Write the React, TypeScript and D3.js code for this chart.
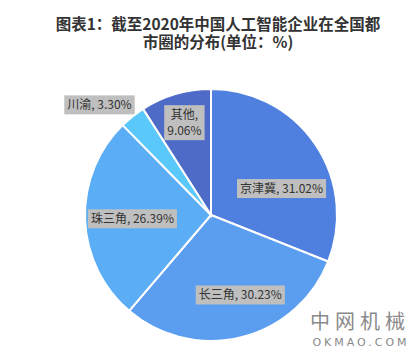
import React, { useEffect, useRef } from 'react'
import * as d3 from 'd3'

const regions = ['京津冀', '长三角', '珠三角', '川渝', '其他']
const shares = [31.02, 30.23, 26.39, 3.3, 9.06]
const colors = ['#4f80e0', '#5b9ef0', '#5badf5', '#5ac8fa', '#4e6bc8']
// where each label sits: share of the radius, then a small nudge in px
const labelPos = [0.6, 0.67, 0.64, 1.28, 0.78]
const labelNudge = [[8, 16], [9, -2], [2, 1], [-11, 16], [1, 2]]
const titleLines = ['图表1：截至2020年中国人工智能企业在全国都', '市圈的分布(单位：%)']

export default function App() {
  const ref = useRef<SVGSVGElement>(null)

  useEffect(() => {
    const svg = d3.select(ref.current)
    svg.selectAll('*').remove()

    const cx = 211, cy = 215, r = 126
    const font = '"Noto Sans CJK SC", "Noto Sans", sans-serif'

    svg.append('rect').attr('width', 420).attr('height', 351).attr('fill', '#fff')

    svg.append('g')
      .selectAll('text')
      .data(titleLines).enter().append('text')
        .attr('x', 218).attr('y', (d, i) => 30 + i * 18)
        .attr('text-anchor', 'middle')
        .attr('font-family', font)
        .attr('font-weight', 'bold')
        .attr('font-size', 15.5)
        .attr('fill', '#333')
        .text(d => d)

    const pie = d3.pie<number>().sort(null).value(d => d)
    const arcs = pie(shares)
    const arc = d3.arc<d3.PieArcDatum<number>>().innerRadius(0).outerRadius(r)

    const g = svg.append('g').attr('transform', `translate(${cx},${cy})`)
    g.selectAll('path')
      .data(arcs).enter().append('path')
        .attr('d', arc)
        .attr('fill', (d, i) => colors[i])
        .attr('stroke', '#fff')
        .attr('stroke-width', 2)

    // labels
    const labels = g.append('g')
    arcs.forEach((d, i) => {
      const la = d3.arc<d3.PieArcDatum<number>>()
        .innerRadius(r * labelPos[i]).outerRadius(r * labelPos[i])
      const [x, y] = la.centroid(d)
      const lines = regions[i] === '其他'
        ? [regions[i] + ',', shares[i].toFixed(2) + '%']
        : [regions[i] + ', ' + shares[i].toFixed(2) + '%']
      const lg = labels.append('g')
        .attr('transform', `translate(${x + labelNudge[i][0]},${y + labelNudge[i][1]})`)
      const texts = lg.selectAll('text')
        .data(lines).enter().append('text')
          .attr('text-anchor', 'middle')
          .attr('y', (t, j) => (j - (lines.length - 1) / 2) * 16 + 4.5)
          .attr('font-family', font)
          .attr('font-size', 12)
          .attr('fill', '#333')
          .text(t => t)
      let w = 0
      texts.each(function () { w = Math.max(w, (this as SVGTextElement).getComputedTextLength()) })
      const h = lines.length * 16 + 3
      lg.insert('rect', 'text')
        .attr('x', -w / 2 - 3).attr('y', -h / 2)
        .attr('width', w + 6).attr('height', h)
        .attr('fill', '#bfbfbf')
    })

    // watermark
    svg.append('text')
      .attr('x', 360).attr('y', 329)
      .attr('text-anchor', 'middle')
      .attr('font-family', font)
      .attr('font-size', 20)
      .attr('letter-spacing', 5)
      .attr('fill', '#8a8a8a')
      .text('中网机械')
    svg.append('text')
      .attr('x', 361).attr('y', 346)
      .attr('text-anchor', 'middle')
      .attr('font-family', '"DejaVu Sans", sans-serif')
      .attr('font-size', 11)
      .attr('letter-spacing', 3)
      .attr('fill', '#8a8a8a')
      .text('OKMAO.COM')
  }, [])

  return (
    <svg ref={ref} width={420} height={351}
      style={{ position: 'absolute', left: 0, top: 0 }} />
  )
}
